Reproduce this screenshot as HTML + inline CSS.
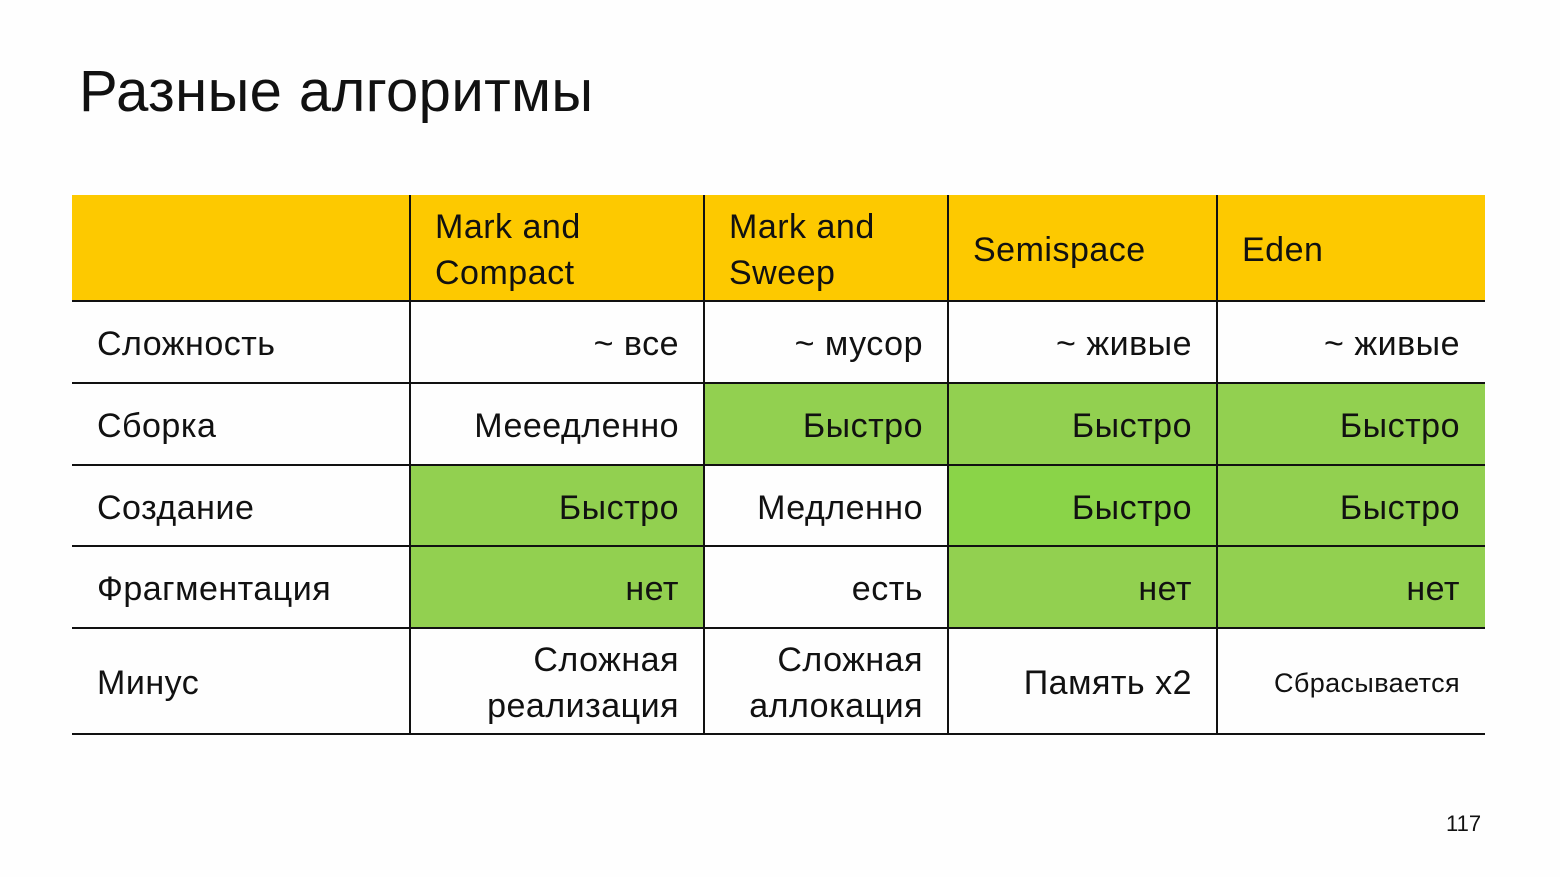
<!DOCTYPE html>
<html><head><meta charset="utf-8"><style>
html,body{margin:0;padding:0;background:#fefefe;}
body{width:1560px;height:877px;position:relative;overflow:hidden;font-family:"Liberation Sans","DejaVu Sans",sans-serif;color:#111;}
.t{position:absolute;left:79px;top:58px;font-size:58px;letter-spacing:0.4px;}
.c{position:absolute;box-sizing:border-box;display:flex;align-items:center;font-size:34px;line-height:46px;padding-top:4px;letter-spacing:0.5px;}
.r{justify-content:flex-end;padding-right:25px;text-align:right;}
.l{padding-left:25px;}
.y{background:#fdc900;}
.g{background:#92d050;}
.g2{background:#8ad448;}
.h{position:absolute;left:72px;width:1413px;height:2px;background:#111;}
.v{position:absolute;width:2px;background:#111;top:195px;height:540px;}
.n{position:absolute;left:1446px;top:811px;font-size:22px;}
</style></head><body>
<div class="t">Разные алгоритмы</div>
<div class="c y" style="left:72px;top:195px;width:338px;height:106px"></div>
<div class="c y l" style="left:410px;top:195px;width:294px;height:106px">Mark and<br>Compact</div>
<div class="c y l" style="left:704px;top:195px;width:244px;height:106px">Mark and<br>Sweep</div>
<div class="c y l" style="left:948px;top:195px;width:269px;height:106px">Semispace</div>
<div class="c y l" style="left:1217px;top:195px;width:268px;height:106px">Eden</div>
<div class="c l" style="left:72px;top:301px;width:338px;height:82px">Сложность</div>
<div class="c r" style="left:410px;top:301px;width:294px;height:82px">~ все</div>
<div class="c r" style="left:704px;top:301px;width:244px;height:82px">~ мусор</div>
<div class="c r" style="left:948px;top:301px;width:269px;height:82px">~ живые</div>
<div class="c r" style="left:1217px;top:301px;width:268px;height:82px">~ живые</div>
<div class="c l" style="left:72px;top:383px;width:338px;height:82px">Сборка</div>
<div class="c r" style="left:410px;top:383px;width:294px;height:82px">Мееедленно</div>
<div class="c r g" style="left:704px;top:383px;width:244px;height:82px">Быстро</div>
<div class="c r g" style="left:948px;top:383px;width:269px;height:82px">Быстро</div>
<div class="c r g" style="left:1217px;top:383px;width:268px;height:82px">Быстро</div>
<div class="c l" style="left:72px;top:465px;width:338px;height:81px">Создание</div>
<div class="c r g" style="left:410px;top:465px;width:294px;height:81px">Быстро</div>
<div class="c r" style="left:704px;top:465px;width:244px;height:81px">Медленно</div>
<div class="c r g2" style="left:948px;top:465px;width:269px;height:81px">Быстро</div>
<div class="c r g" style="left:1217px;top:465px;width:268px;height:81px">Быстро</div>
<div class="c l" style="left:72px;top:546px;width:338px;height:82px">Фрагментация</div>
<div class="c r g" style="left:410px;top:546px;width:294px;height:82px">нет</div>
<div class="c r" style="left:704px;top:546px;width:244px;height:82px">есть</div>
<div class="c r g" style="left:948px;top:546px;width:269px;height:82px">нет</div>
<div class="c r g" style="left:1217px;top:546px;width:268px;height:82px">нет</div>
<div class="c l" style="left:72px;top:628px;width:338px;height:106px">Минус</div>
<div class="c r" style="left:410px;top:628px;width:294px;height:106px">Сложная<br>реализация</div>
<div class="c r" style="left:704px;top:628px;width:244px;height:106px">Сложная<br>аллокация</div>
<div class="c r" style="left:948px;top:628px;width:269px;height:106px">Память x2</div>
<div class="c r" style="left:1217px;top:628px;width:268px;height:106px;font-size:27px;letter-spacing:0.4px">Сбрасывается</div>
<div class="h" style="top:300px"></div>
<div class="h" style="top:382px"></div>
<div class="h" style="top:464px"></div>
<div class="h" style="top:545px"></div>
<div class="h" style="top:627px"></div>
<div class="h" style="top:733px"></div>
<div class="v" style="left:409px"></div>
<div class="v" style="left:703px"></div>
<div class="v" style="left:947px"></div>
<div class="v" style="left:1216px"></div>
<div class="n">117</div>
</body></html>
